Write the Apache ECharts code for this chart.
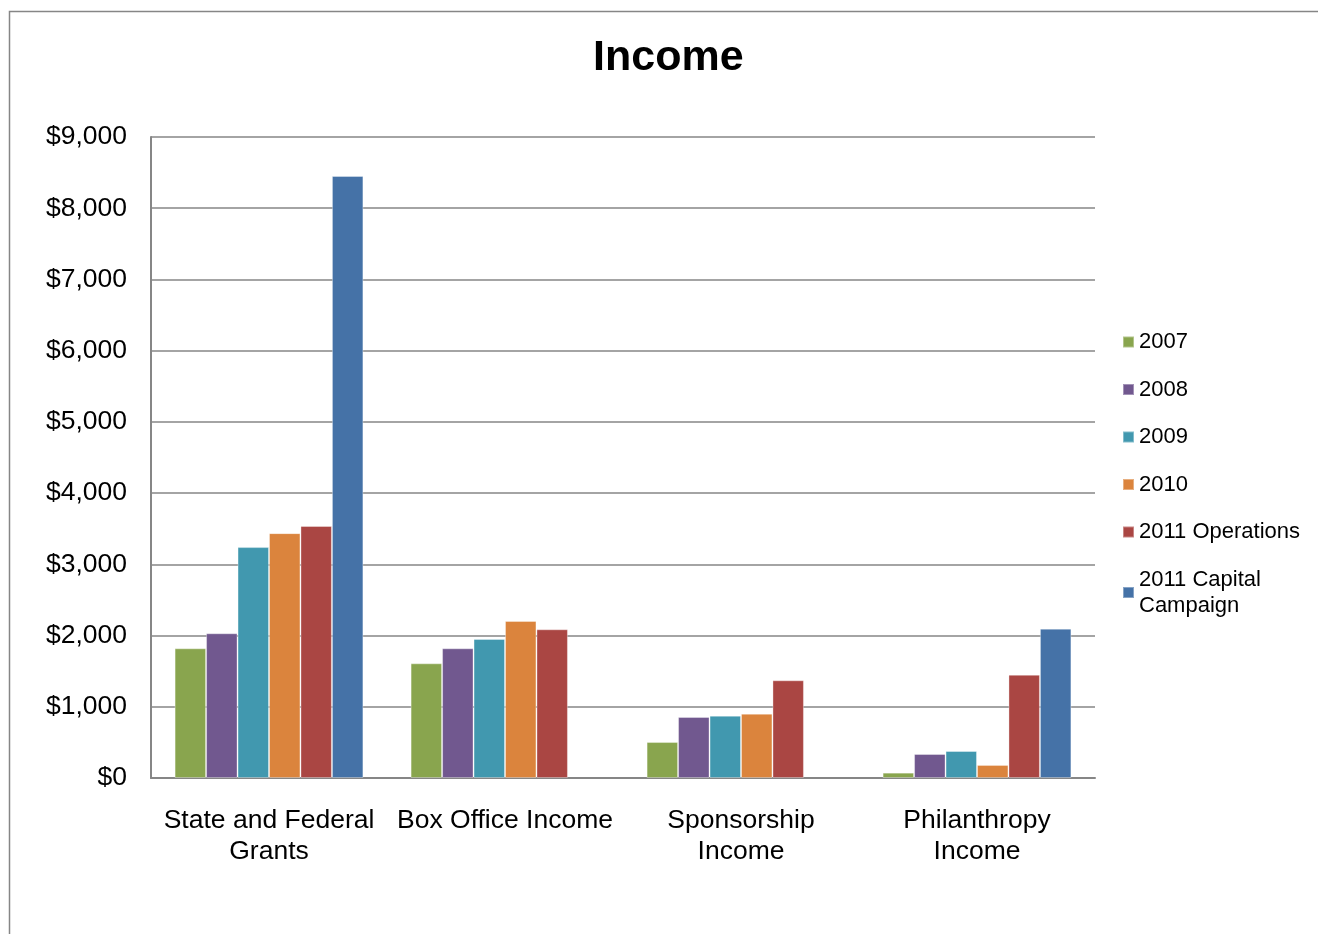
<!DOCTYPE html>
<html>
<head>
<meta charset="utf-8">
<script src="https://cdn.jsdelivr.net/npm/echarts@6/dist/echarts.min.js"></script>
<style>html,body{margin:0;padding:0;background:#fff;}#c{width:1318px;height:934px;}</style>
</head>
<body>
<div id="c"></div>
<script>
const categories = ['State and Federal\nGrants', 'Box Office Income', 'Sponsorship\nIncome', 'Philanthropy\nIncome'];
const seriesNames = ['2007', '2008', '2009', '2010', '2011 Operations', '2011 Capital\nCampaign'];
const v2007 = [1821, 1610, 505, 75];
const v2008 = [2032, 1821, 857, 337];
const v2009 = [3242, 1952, 875, 379];
const v2010 = [3438, 2204, 903, 183];
const v2011Ops = [3538, 2088, 1372, 1450];
const v2011Cap = [8453, null, null, 2097];
const yTicks = [0, 1000, 2000, 3000, 4000, 5000, 6000, 7000, 8000, 9000];
const colors = ['#89A54E', '#71588F', '#4198AF', '#DB843D', '#AA4643', '#4572A7'];
const allValues = [v2007, v2008, v2009, v2010, v2011Ops, v2011Cap];

const chart = echarts.init(document.getElementById('c'));
const font = 'Liberation Sans, Arial, sans-serif';
chart.setOption({
  animation: false,
  color: colors,
  graphic: [{
    type: 'rect', silent: true,
    shape: { x: 9.5, y: 11.5, width: 1330, height: 940 },
    style: { fill: 'none', stroke: '#868686', lineWidth: 1.5 }
  }],
  title: {
    text: 'Income', left: 588, top: 32,
    textStyle: { fontFamily: font, fontSize: 43, fontWeight: 'bold', color: '#000' }
  },
  legend: {
    orient: 'vertical', left: 1117, top: 324,
    itemWidth: 11, itemHeight: 11, itemGap: 21.5,
    icon: 'rect',
    textStyle: { fontFamily: font, fontSize: 22, color: '#000', lineHeight: 26 },
    data: seriesNames
  },
  grid: { left: 151, right: 223, top: 137, bottom: 156 },
  xAxis: {
    type: 'category', data: categories,
    axisLine: { lineStyle: { color: '#868686', width: 2 } },
    axisTick: { show: false },
    axisLabel: { fontFamily: font, fontSize: 26.5, color: '#000', margin: 27, lineHeight: 31, interval: 0 }
  },
  yAxis: {
    type: 'value', min: 0, max: 9000, interval: 1000,
    axisLine: { show: true, lineStyle: { color: '#868686', width: 2 } },
    axisTick: { show: false },
    splitLine: { lineStyle: { color: '#868686', width: 1.5 } },
    axisLabel: {
      fontFamily: font, fontSize: 26.5, color: '#000', margin: 24,
      formatter: v => '$' + v.toLocaleString('en-US')
    }
  },
  series: seriesNames.map((n, i) => ({
    name: n, type: 'bar', data: allValues[i],
    barGap: '0%', barCategoryGap: '20%',
    itemStyle: { borderColor: 'rgba(255,255,255,0.35)', borderWidth: 1 }
  }))
});
</script>
</body>
</html>
